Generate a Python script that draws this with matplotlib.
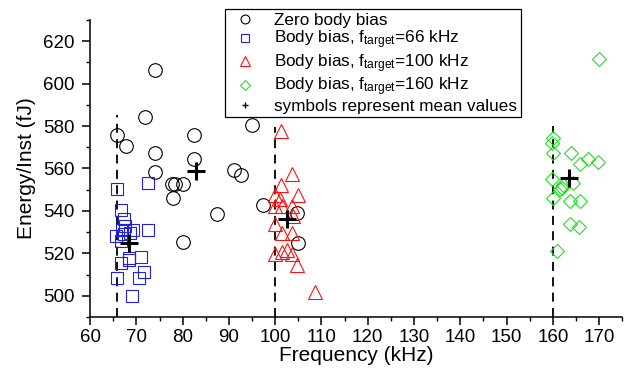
import matplotlib
matplotlib.use("Agg")
import matplotlib.pyplot as plt
from matplotlib.ticker import MultipleLocator

plt.rcParams['font.family'] = ['Liberation Sans', 'DejaVu Sans']
plt.rcParams['mathtext.fontset'] = 'custom'
plt.rcParams['mathtext.rm'] = 'Liberation Sans'
plt.rcParams['mathtext.it'] = 'Liberation Sans:italic'

# Zero body bias
zero_f = [65.9, 67.8, 71.9, 74.0, 74.0, 74.0, 82.5, 82.5, 95.0, 91.1, 92.5,
          77.6, 78.4, 80.0, 78.0, 87.4, 80.0, 97.4, 104.8, 105.0]
zero_e = [575.6, 570.5, 584.4, 606.4, 567.4, 558.3, 575.6, 564.6, 580.3, 559.5, 557.0,
          552.9, 552.9, 552.6, 545.9, 538.3, 525.4, 542.8, 538.8, 525.0]

# Body bias, f_target = 66 kHz
bb66_f = [65.9, 72.6, 66.6, 67.3, 66.8, 69.2, 72.6, 65.6, 67.3, 68.6,
          66.6, 68.5, 71.0, 66.6, 68.5, 71.7, 65.9, 70.6, 69.1, 67.6]
bb66_e = [550.4, 553.3, 540.6, 536.3, 531.2, 530.9, 530.9, 528.0, 529.3, 529.6,
          525.7, 517.8, 518.3, 515.5, 516.7, 511.0, 508.4, 508.4, 500.0, 533.0]

# Body bias, f_target = 100 kHz
bb100_f = [101.2, 103.7, 101.2, 105.0, 100.0, 101.0, 101.4, 100.0, 103.7, 103.9,
           100.0, 101.4, 103.7, 100.0, 101.4, 102.5, 103.6, 104.8, 108.6]
bb100_e = [577.6, 557.6, 552.4, 547.7, 547.7, 545.4, 542.5, 542.2, 542.5, 537.5,
           534.0, 529.6, 529.6, 519.9, 520.5, 521.4, 519.9, 514.7, 501.6]

# Body bias, f_target = 160 kHz
bb160_f = [160.1, 159.8, 160.1, 163.9, 165.8, 167.6, 169.8, 159.8, 164.4, 161.9,
           161.5, 162.1, 160.1, 163.7, 165.8, 163.7, 165.7, 160.8, 170.0]
bb160_e = [574.5, 572.1, 567.4, 567.4, 561.9, 564.6, 563.0, 554.8, 553.2, 550.9,
           550.1, 552.0, 546.2, 544.6, 544.6, 533.6, 532.5, 521.0, 611.8]

# Mean values
mean_f = [82.9, 68.5, 102.5, 163.5]
mean_e = [558.7, 525.0, 536.2, 555.6]

# Target frequency guide lines (x, top of line)
target_f = [65.7, 100.0, 160.0]
target_top = [585.0, 579.5, 580.0]

labels = ['Zero body bias',
          r'Body bias, f$_{\mathrm{target}}$=66 kHz',
          r'Body bias, f$_{\mathrm{target}}$=100 kHz',
          r'Body bias, f$_{\mathrm{target}}$=160 kHz',
          'symbols represent mean values']

fig = plt.figure(figsize=(6.26, 3.76), dpi=100)
ax = fig.add_axes([0.144, 0.157, 0.850, 0.790])

ymin, ymax = 490, 630
for xf, yt in zip(target_f, target_top):
    ax.plot([xf, xf], [ymin, yt], color='black', lw=1.3, ls=(0, (5, 3.5)), zorder=1)

mew = 0.8
h1, = ax.plot(zero_f, zero_e, 'o', ms=9.8, mfc='none', mec='black', mew=mew, ls='none', zorder=2)
h2, = ax.plot(bb66_f, bb66_e, 's', ms=9, mfc='none', mec='#2020e0', mew=mew, ls='none', zorder=2)
h3, = ax.plot(bb100_f, bb100_e, '^', ms=10, mfc='none', mec='#ff1010', mew=mew, ls='none', zorder=2)
h4, = ax.plot(bb160_f, bb160_e, 'D', ms=7.5, mfc='none', mec='#20e020', mew=mew, ls='none', zorder=2)
ax.plot(mean_f, mean_e, '+', ms=13, mec='black', mew=2.2, ls='none', zorder=3)
h5, = ax.plot([], [], '+', ms=7, mec='black', mew=1.0, ls='none')

ax.set_xlim(60, 175)
ax.set_ylim(ymin, ymax)
ax.xaxis.set_major_locator(MultipleLocator(10))
ax.xaxis.set_minor_locator(MultipleLocator(5))
ax.yaxis.set_minor_locator(MultipleLocator(10))
ax.set_yticks([500, 520, 540, 560, 580, 600, 620])

for s in ['top', 'right']:
    ax.spines[s].set_visible(False)
for s in ['left', 'bottom']:
    ax.spines[s].set_linewidth(1.1)
ax.tick_params(which='major', direction='out', length=6, width=1.1, labelsize=13.5, pad=3)
ax.tick_params(axis='y', which='major', pad=5)
ax.tick_params(which='minor', direction='out', length=3, width=1.0)

ax.set_xlabel('Frequency (kHz)', fontsize=15, labelpad=0)
ax.set_ylabel('Energy/Inst (fJ)', fontsize=15, labelpad=5)

leg = fig.legend([h1, h2, h3, h4, h5], labels, loc='upper left',
                 bbox_to_anchor=(0.359, 0.975), fontsize=12.3, markerscale=0.65,
                 frameon=True, fancybox=False, edgecolor='black', framealpha=1,
                 borderpad=0.2, labelspacing=0.05, handletextpad=0.7,
                 handlelength=2.0, borderaxespad=0)
leg.get_frame().set_linewidth(0.9)

fig.savefig('out.png', dpi=100)
